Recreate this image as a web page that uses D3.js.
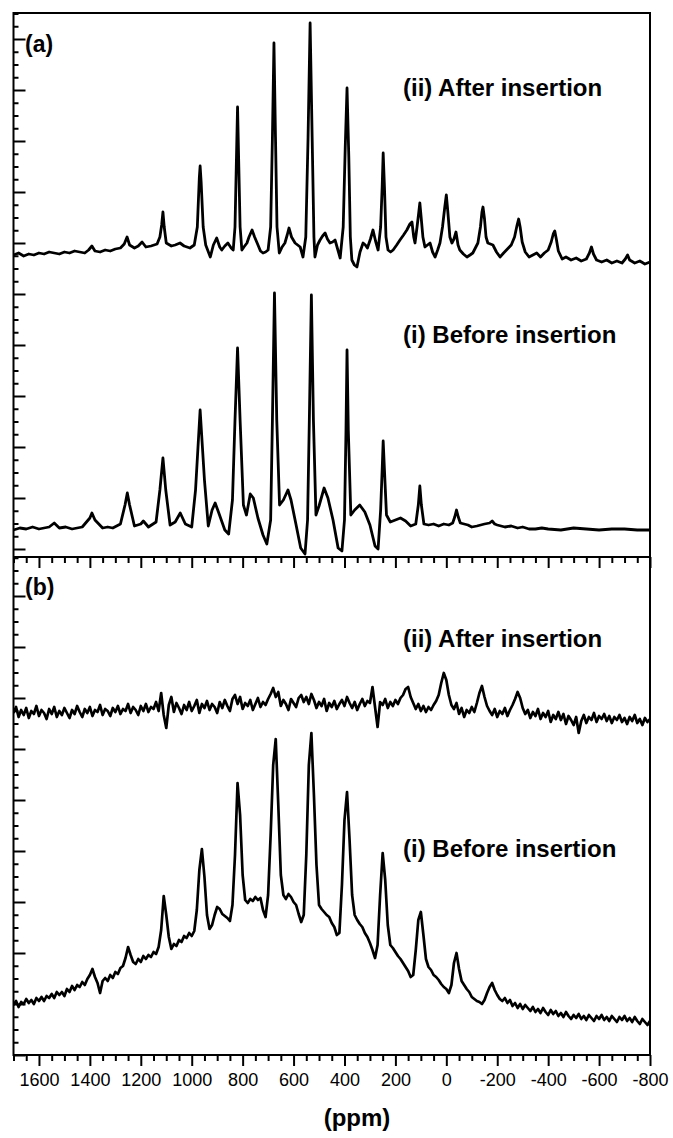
<!DOCTYPE html>
<html>
<head>
<meta charset="utf-8">
<script src="https://cdn.jsdelivr.net/npm/d3@7"></script>
<style>
  body { margin: 0; background: #fff; }
  svg { display: block; }
  text { font-family: "Liberation Sans", Arial, sans-serif; fill: #000; }
</style>
</head>
<body>
<div id="chart"></div>
<script>
// Spectra: [ppm, intensity (a.u.)]
// panel (a): intensity 0 = bottom of panel, 544 = top
const afterA = [
  [1700,302],[1680,304],[1660,301],[1640,303],[1620,302],[1600,304],[1580,303],[1560,305],[1540,304],
  [1520,303],[1500,305],[1480,304],[1460,306],[1440,305],[1420,304],[1405,307],[1392,311],[1380,306],
  [1360,305],[1340,307],[1320,306],[1300,308],[1280,309],[1265,313],[1254,320],[1244,312],[1225,309],
  [1210,311],[1195,315],[1180,310],[1160,311],[1136,313],[1125,320],[1118,332],[1113,345],[1108,330],
  [1100,314],[1080,311],[1065,312],[1046,314],[1030,311],[1007,309],[990,312],[978,330],[970,380],
  [967,391],[963,375],[955,330],[945,312],[927,300],[915,312],[902,319],[890,310],[882,307],[870,311],
  [858,314],[845,309],[837,307],[830,330],[825,390],[820,450],[815,390],[810,330],[803,307],[795,310],
  [783,314],[775,320],[763,327],[753,320],[743,314],[730,306],[720,304],[710,305],[700,307],[690,330],
  [683,420],[677,514],[671,420],[665,330],[656,304],[645,310],[634,314],[625,322],[618,329],[608,320],
  [594,314],[584,312],[574,310],[563,300],[552,320],[543,420],[535,534],[527,420],[520,320],[516,300],
  [506,312],[496,317],[486,321],[476,324],[467,318],[457,314],[447,315],[437,317],[427,308],[417,299],
  [405,330],[397,410],[390,469],[383,400],[377,320],[371,297],[361,292],[351,290],[339,305],[327,314],
  [318,312],[310,309],[298,318],[288,327],[278,316],[268,307],[258,330],[252,370],[248,404],[243,370],
  [237,320],[229,307],[219,305],[209,307],[195,312],[182,317],[168,322],[155,327],[143,333],[135,335],
  [128,320],[123,314],[115,330],[108,345],[104,354],[99,340],[92,320],[84,310],[74,312],[64,314],
  [54,305],[44,300],[34,307],[25,314],[15,330],[6,350],[0,362],[-6,345],[-14,320],[-22,314],[-30,318],
  [-38,325],[-46,312],[-53,307],[-67,303],[-81,300],[-93,302],[-104,304],[-114,309],[-124,314],
  [-134,330],[-140,345],[-144,350],[-150,338],[-156,320],[-163,314],[-173,313],[-183,312],[-197,305],
  [-211,300],[-225,304],[-240,308],[-255,312],[-268,320],[-278,332],[-284,338],[-290,330],[-298,315],
  [-310,305],[-325,300],[-340,302],[-355,304],[-370,300],[-385,304],[-400,307],[-412,315],[-420,323],
  [-426,326],[-432,318],[-440,306],[-455,298],[-470,300],[-490,297],[-510,299],[-530,296],[-550,298],
  [-562,304],[-570,310],[-578,303],[-590,297],[-610,295],[-630,297],[-650,294],[-670,296],[-690,294],
  [-703,298],[-712,302],[-720,297],[-740,294],[-760,296],[-780,293],[-800,295]
];

const beforeA = [
  [1700,27],[1675,29],[1650,28],[1625,30],[1600,28],[1580,29],[1560,30],[1540,34],[1520,29],[1495,30],
  [1470,28],[1450,29],[1430,30],[1400,39],[1392,44],[1380,37],[1350,29],[1330,30],[1310,29],[1280,33],
  [1262,52],[1253,64],[1244,52],[1225,31],[1200,33],[1190,36],[1170,30],[1140,35],[1125,67],[1113,99],
  [1102,67],[1085,32],[1065,35],[1045,44],[1025,33],[1000,30],[985,67],[967,147],[950,77],[935,31],
  [920,47],[908,54],[895,45],[870,27],[855,23],[840,57],[830,137],[820,209],[810,137],[797,52],
  [785,42],[770,63],[758,59],[740,39],[720,22],[705,13],[690,37],[683,137],[675,264],[666,137],
  [655,52],[640,57],[622,67],[610,57],[590,32],[572,9],[555,3],[545,37],[538,137],[530,262],
  [522,137],[512,42],[500,51],[480,69],[465,59],[445,37],[425,9],[410,6],[400,37],[394,127],
  [390,207],[385,127],[375,42],[360,47],[340,52],[320,45],[300,32],[280,11],[268,8],[258,47],
  [252,87],[248,116],[243,87],[235,42],[220,35],[200,37],[180,39],[160,36],[140,31],[120,33],
  [110,52],[104,71],[98,52],[88,33],[70,32],[50,33],[30,31],[10,33],[-10,32],[-25,34],[-33,40],
  [-40,47],[-47,40],[-55,34],[-70,33],[-85,32],[-100,30],[-120,31],[-150,33],[-170,34],[-180,36],
  [-190,33],[-200,32],[-230,30],[-255,31],[-280,29],[-300,30],[-325,28],[-350,28],[-375,29],
  [-400,28],[-450,27],[-500,29],[-550,28],[-600,27],[-650,28],[-700,28],[-750,27],[-800,27]
];

// panel (b): intensity 0 = bottom of panel, 498 = top
const afterB = [
  [1700,342],[1690,348],[1680,338],[1670,345],[1660,340],[1650,347],[1640,337],[1630,344],[1620,341],
  [1610,349],[1600,339],[1590,345],[1580,342],[1570,336],[1560,346],[1550,341],[1540,348],[1530,338],
  [1520,344],[1510,340],[1500,347],[1490,342],[1480,337],[1470,345],[1460,341],[1450,349],[1440,343],
  [1430,338],[1420,346],[1410,342],[1400,348],[1390,339],[1380,345],[1370,343],[1360,350],[1350,340],
  [1340,346],[1330,344],[1320,339],[1310,347],[1300,343],[1290,349],[1280,341],[1270,346],[1260,344],
  [1250,351],[1240,342],[1230,348],[1220,345],[1210,340],[1200,349],[1190,344],[1180,351],[1170,343],
  [1160,348],[1150,346],[1140,353],[1130,344],[1120,362],[1110,340],[1100,327],[1090,350],[1080,358],
  [1070,343],[1060,352],[1050,347],[1040,341],[1030,350],[1020,345],[1010,353],[1000,344],[990,349],
  [980,355],[970,342],[960,351],[950,347],[940,354],[930,345],[920,351],[910,348],[900,342],[890,353],
  [880,347],[870,355],[860,349],[850,344],[840,356],[830,360],[820,351],[810,358],[800,346],[790,352],
  [780,349],[770,355],[760,345],[750,351],[740,357],[730,348],[720,353],[710,350],[700,356],[690,361],
  [680,367],[670,358],[660,363],[650,349],[640,355],[630,351],[620,345],[610,356],[600,352],[590,348],
  [580,357],[570,360],[560,353],[550,358],[540,351],[530,361],[520,355],[510,347],[500,353],[490,349],
  [480,356],[470,344],[460,352],[450,348],[440,354],[430,346],[420,351],[410,355],[400,349],[390,358],
  [380,352],[370,347],[360,353],[350,345],[340,351],[330,356],[320,349],[310,354],[300,352],[290,368],
  [280,348],[270,328],[260,353],[250,350],[240,356],[230,347],[220,353],[210,349],[200,355],[190,351],
  [180,357],[170,360],[160,366],[150,368],[140,358],[130,352],[120,346],[110,351],[100,344],[90,349],
  [80,343],[70,348],[60,345],[50,350],[40,354],[30,360],[20,372],[10,382],[0,375],[-10,360],[-20,350],
  [-30,346],[-40,352],[-50,341],[-60,347],[-70,338],[-80,345],[-90,342],[-100,348],[-110,343],[-120,352],
  [-130,362],[-140,369],[-150,358],[-160,349],[-170,344],[-180,340],[-190,346],[-200,338],[-210,344],
  [-220,341],[-230,347],[-240,339],[-250,345],[-260,350],[-270,356],[-280,363],[-290,357],[-300,347],
  [-310,341],[-320,345],[-330,337],[-340,343],[-350,339],[-360,346],[-370,336],[-380,342],[-390,338],
  [-400,344],[-410,333],[-420,340],[-430,336],[-440,343],[-450,335],[-460,341],[-470,331],[-480,339],
  [-490,335],[-500,330],[-510,338],[-520,322],[-530,334],[-540,340],[-550,332],[-560,338],[-570,335],
  [-580,342],[-590,333],[-600,339],[-610,336],[-620,341],[-630,334],[-640,339],[-650,332],[-660,338],
  [-670,335],[-680,340],[-690,333],[-700,337],[-710,331],[-720,338],[-730,334],[-740,340],[-750,332],
  [-760,336],[-770,330],[-780,337],[-790,333],[-800,336]
];

const beforeB = [
  [1700,50],[1690,54],[1680,48],[1670,53],[1660,51],[1650,56],[1640,52],[1630,55],[1620,51],[1610,57],
  [1600,54],[1590,58],[1580,54],[1570,59],[1560,57],[1550,61],[1540,57],[1530,63],[1520,60],[1510,63],
  [1500,59],[1490,66],[1480,63],[1470,69],[1460,65],[1450,70],[1440,68],[1430,73],[1420,70],[1410,76],
  [1400,80],[1390,86],[1380,78],[1370,72],[1360,62],[1350,74],[1340,77],[1330,74],[1320,80],[1310,77],
  [1300,83],[1290,81],[1280,87],[1270,89],[1260,97],[1250,108],[1240,100],[1230,93],[1220,91],[1210,96],
  [1200,93],[1190,99],[1180,96],[1170,100],[1160,98],[1150,103],[1140,101],[1130,108],[1120,125],
  [1110,159],[1100,140],[1090,118],[1080,106],[1070,111],[1060,109],[1050,115],[1040,113],[1030,119],
  [1020,117],[1010,122],[1000,119],[990,124],[980,145],[970,185],[960,206],[950,178],[940,140],[930,126],
  [920,130],[910,140],[900,148],[890,146],[880,141],[870,139],[860,137],[850,134],[840,150],[830,200],
  [820,272],[810,240],[800,180],[790,155],[780,152],[770,156],[760,154],[750,158],[740,155],[730,157],
  [720,145],[710,138],[700,160],[690,220],[680,290],[670,316],[660,250],[650,180],[640,160],[630,156],
  [620,161],[610,158],[600,153],[590,150],[580,141],[570,133],[560,140],[550,200],[540,290],[530,322],
  [520,260],[510,190],[500,150],[490,146],[480,143],[470,140],[460,138],[450,132],[440,128],[430,120],
  [420,122],[410,170],[400,235],[390,263],[380,215],[370,160],[360,140],[350,135],[340,131],[330,128],
  [320,122],[310,118],[300,112],[290,105],[280,97],[270,110],[260,160],[250,202],[240,175],[230,130],
  [220,110],[210,107],[200,103],[190,99],[180,96],[170,92],[160,88],[150,84],[140,78],[130,80],
  [120,105],[110,135],[100,143],[90,120],[80,96],[70,88],[60,85],[50,80],[40,78],[30,75],[20,71],
  [10,68],[0,66],[-10,62],[-20,70],[-30,92],[-40,102],[-50,86],[-60,74],[-70,70],[-80,66],[-90,63],
  [-100,58],[-110,56],[-120,54],[-130,53],[-140,51],[-150,55],[-160,62],[-170,68],[-180,72],[-190,65],
  [-200,60],[-210,56],[-220,54],[-230,57],[-240,52],[-250,55],[-260,49],[-270,52],[-280,47],[-290,51],
  [-300,46],[-310,50],[-320,47],[-330,44],[-340,48],[-350,43],[-360,46],[-370,42],[-380,47],[-390,43],
  [-400,40],[-410,45],[-420,41],[-430,44],[-440,39],[-450,42],[-460,38],[-470,43],[-480,39],[-490,36],
  [-500,40],[-510,37],[-520,41],[-530,36],[-540,39],[-550,35],[-560,40],[-570,37],[-580,34],[-590,39],
  [-600,36],[-610,40],[-620,35],[-630,38],[-640,34],[-650,39],[-660,36],[-670,33],[-680,38],[-690,35],
  [-700,39],[-710,34],[-720,37],[-730,33],[-740,38],[-750,34],[-760,31],[-770,36],[-780,33],[-790,30],
  [-800,34]
];

const xTickLabels = [1600, 1400, 1200, 1000, 800, 600, 400, 200, 0, -200, -400, -600, -800];
const panelLabels = ["(a)", "(b)"];
const traceLabels = ["(ii) After insertion", "(i) Before insertion"];

// layout
const W = 673, H = 1138;
const frame = { left: 13.5, right: 650, top: 13, mid: 557, bottom: 1055 };

const svg = d3.select("#chart").append("svg")
  .attr("width", W)
  .attr("height", H)
  .style("background", "#fff");

const x = d3.scaleLinear().domain([1700, -800]).range([frame.left, frame.right]);
const yA = d3.scaleLinear().domain([0, 544]).range([frame.mid, frame.top]);
const yB = d3.scaleLinear().domain([0, 498]).range([frame.bottom, frame.mid]);

// clip each panel
const defs = svg.append("defs");
defs.append("clipPath").attr("id", "clipA").append("rect")
  .attr("x", frame.left).attr("y", frame.top)
  .attr("width", frame.right - frame.left).attr("height", frame.mid - frame.top);
defs.append("clipPath").attr("id", "clipB").append("rect")
  .attr("x", frame.left).attr("y", frame.mid)
  .attr("width", frame.right - frame.left).attr("height", frame.bottom - frame.mid);

// traces
function drawTrace(data, y, clip, width) {
  const line = d3.line().x(d => x(d[0])).y(d => y(d[1]));
  svg.append("path")
    .datum(data)
    .attr("clip-path", `url(#${clip})`)
    .attr("fill", "none")
    .attr("stroke", "#000")
    .attr("stroke-width", width)
    .attr("stroke-linejoin", "round")
    .attr("d", line);
}
drawTrace(afterA, yA, "clipA", 2.8);
drawTrace(beforeA, yA, "clipA", 2.8);
drawTrace(afterB, yB, "clipB", 2.7);
drawTrace(beforeB, yB, "clipB", 2.7);

// x axes (ticks outward, below each panel)
const xMinor = d3.range(1700, -801, -50).filter(v => v % 200 !== 0);
function xAxis(yPos, labels) {
  svg.append("g")
    .attr("transform", `translate(0,${yPos})`)
    .call(d3.axisBottom(x).tickValues(xMinor).tickSize(6).tickFormat(""))
    .call(g => g.select(".domain").remove())
    .call(g => g.selectAll("line").attr("stroke-width", 2));
  svg.append("g")
    .attr("transform", `translate(0,${yPos})`)
    .call(d3.axisBottom(x).tickValues(xTickLabels).tickSize(11).tickPadding(7)
      .tickFormat(labels ? d => String(d) : ""))
    .call(g => g.select(".domain").remove())
    .call(g => g.selectAll("line").attr("stroke-width", 2))
    .call(g => g.selectAll("text")
      .style("font-size", "18px")
      .style("font-family", '"Liberation Sans", Arial, sans-serif')
      .attr("fill", "#000"));
}
xAxis(frame.mid, false);
xAxis(frame.bottom, true);

// y axes (ticks inward, no labels)
function yAxis(y, base, top) {
  const step = 12.75;
  const vals = d3.range(base, top, step);
  const major = vals.filter((v, i) => i % 4 === 0);
  const minor = vals.filter((v, i) => i % 4 !== 0);
  svg.append("g")
    .attr("transform", `translate(${frame.left},0)`)
    .call(d3.axisRight(y).tickValues(minor).tickSize(5).tickFormat(""))
    .call(g => g.select(".domain").remove())
    .call(g => g.selectAll("line").attr("stroke-width", 2));
  svg.append("g")
    .attr("transform", `translate(${frame.left},0)`)
    .call(d3.axisRight(y).tickValues(major).tickSize(12).tickFormat(""))
    .call(g => g.select(".domain").remove())
    .call(g => g.selectAll("line").attr("stroke-width", 2));
}
yAxis(yA, 8, 544);
yAxis(yB, 0, 498);

// frame and divider
svg.append("rect")
  .attr("x", frame.left).attr("y", frame.top)
  .attr("width", frame.right - frame.left).attr("height", frame.bottom - frame.top)
  .attr("fill", "none").attr("stroke", "#000").attr("stroke-width", 2);
svg.append("line")
  .attr("x1", frame.left).attr("x2", frame.right)
  .attr("y1", frame.mid).attr("y2", frame.mid)
  .attr("stroke", "#000").attr("stroke-width", 2);

// panel labels
svg.append("text").attr("x", 25).attr("y", 52)
  .style("font-size", "23px").style("font-weight", "bold").text(panelLabels[0]);
svg.append("text").attr("x", 25).attr("y", 595)
  .style("font-size", "23px").style("font-weight", "bold").text(panelLabels[1]);

// trace labels
const labelPos = [[403, 96, 0], [403, 343, 1], [403, 647, 0], [403, 857, 1]];
labelPos.forEach(([lx, ly, i]) => {
  svg.append("text").attr("x", lx).attr("y", ly)
    .style("font-size", "24px").style("font-weight", "bold")
    .text(traceLabels[i]);
});

// x title
svg.append("text")
  .attr("x", 357).attr("y", 1126)
  .attr("text-anchor", "middle")
  .style("font-size", "24px").style("font-weight", "bold")
  .text("(ppm)");
</script>
</body>
</html>
